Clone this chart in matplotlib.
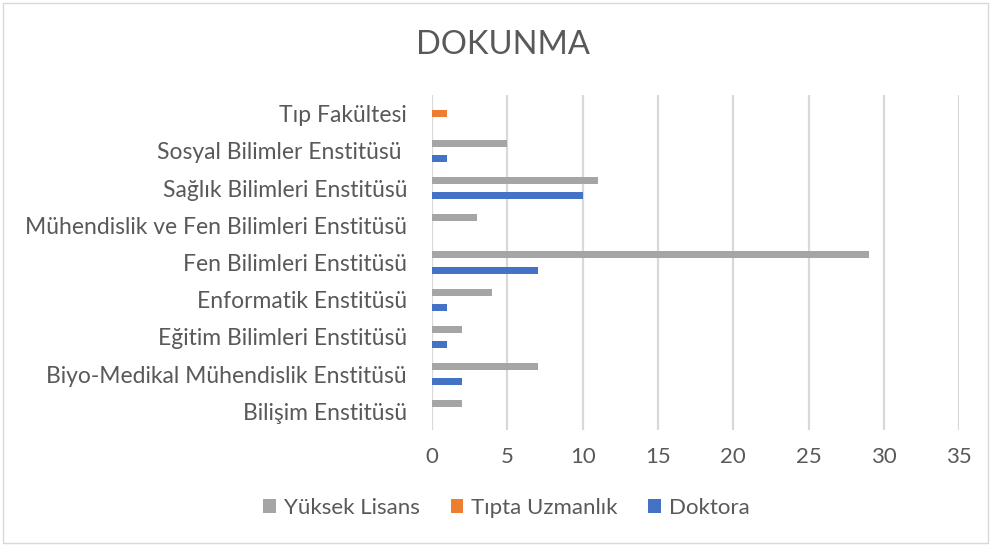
import numpy as np
import matplotlib.pyplot as plt
from matplotlib.patches import Rectangle

# Data (bottom to top)
categories = [
    "Bilişim Enstitüsü",
    "Biyo-Medikal Mühendislik Enstitüsü",
    "Eğitim Bilimleri Enstitüsü",
    "Enformatik Enstitüsü",
    "Fen Bilimleri Enstitüsü",
    "Mühendislik ve Fen Bilimleri Enstitüsü",
    "Sağlık Bilimleri Enstitüsü",
    "Sosyal Bilimler Enstitüsü ",
    "Tıp Fakültesi",
]
yuksek_lisans = [2, 7, 2, 4, 29, 3, 11, 5, 0]
tipta_uzmanlik = [0, 0, 0, 0, 0, 0, 0, 0, 1]
doktora = [0, 2, 1, 1, 7, 0, 10, 1, 0]
x_ticks = [0, 5, 10, 15, 20, 25, 30, 35]

TEXT = "#595959"
plt.rcParams['font.family'] = ['Lato', 'DejaVu Sans']

fig = plt.figure(figsize=(9.91, 5.46), dpi=100)
ax = fig.add_axes([0.436, 0.2125, 0.532, 0.6135])

y = np.arange(len(categories))
h = 0.19
off = 0.205
ax.barh(y + off, yuksek_lisans, height=h, color="#A5A5A5", label="Yüksek Lisans", zorder=3)
ax.barh(y, tipta_uzmanlik, height=h, color="#ED7D31", label="Tıpta Uzmanlık", zorder=3)
ax.barh(y - off, doktora, height=h, color="#4472C4", label="Doktora", zorder=3)

ax.set_xlim(0, 35)
ax.set_ylim(-0.5, len(categories) - 0.5)
ax.set_xticks(x_ticks)
ax.set_yticks(y)
ax.set_yticklabels(categories)
ax.xaxis.grid(True, color="#D9D9D9", linewidth=1.6, zorder=0)
ax.tick_params(axis='x', length=0, colors=TEXT, labelsize=16, pad=12)
ax.tick_params(axis='y', length=0, colors=TEXT, labelsize=16.5, pad=18)
for s in ax.spines.values():
    s.set_visible(False)

fig.text(0.508, 0.917, "DOKUNMA", ha='center', va='center', fontsize=23.5, color=TEXT)

leg = fig.legend(loc='center', bbox_to_anchor=(0.511, 0.07), ncol=3, frameon=False,
                 fontsize=16, handlelength=0.55, handleheight=0.55, columnspacing=1.4,
                 handletextpad=0.36)
for t in leg.get_texts():
    t.set_color(TEXT)

fig.patches.append(Rectangle((0.003, 0.005), 0.994, 0.99, transform=fig.transFigure,
                             fill=False, edgecolor="#D9D9D9", linewidth=1))

fig.savefig("out.png", dpi=100)
